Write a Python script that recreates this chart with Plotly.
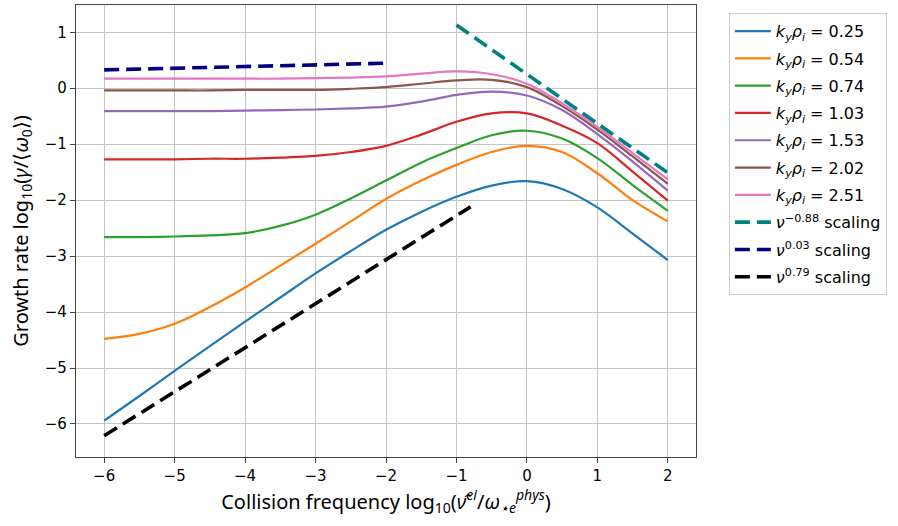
import plotly.graph_objects as go

# Collision frequency grid, log10(nu_ei / omega_*e^phys)
log_nu = [-6, -5.5, -5, -4.5, -4, -3.5, -3, -2.5, -2, -1.5, -1, -0.5, 0, 0.5, 1, 1.5, 2]

# Growth rate log10(gamma / <omega_0>) for each k_y rho_i
ky_labels = ["0.25", "0.54", "0.74", "1.03", "1.53", "2.02", "2.51"]
gr_025 = [-5.94, -5.50, -5.05, -4.61, -4.17, -3.74, -3.31, -2.91, -2.53, -2.21, -1.94, -1.74, -1.66, -1.80, -2.13, -2.60, -3.07]
gr_054 = [-4.48, -4.39, -4.21, -3.91, -3.56, -3.17, -2.78, -2.38, -1.98, -1.65, -1.37, -1.14, -1.03, -1.14, -1.52, -2.00, -2.38]
gr_074 = [-2.66, -2.66, -2.65, -2.63, -2.59, -2.46, -2.26, -1.97, -1.65, -1.33, -1.07, -0.84, -0.76, -0.90, -1.25, -1.73, -2.19]
gr_103 = [-1.27, -1.27, -1.27, -1.26, -1.26, -1.24, -1.21, -1.14, -1.03, -0.83, -0.60, -0.45, -0.45, -0.67, -0.98, -1.49, -2.01]
gr_153 = [-0.41, -0.41, -0.41, -0.41, -0.40, -0.39, -0.38, -0.36, -0.33, -0.24, -0.12, -0.06, -0.13, -0.39, -0.82, -1.31, -1.83]
gr_202 = [-0.04, -0.04, -0.04, -0.04, -0.03, -0.03, -0.03, -0.01, 0.02, 0.08, 0.14, 0.15, 0.02, -0.32, -0.74, -1.22, -1.71]
gr_251 = [0.17, 0.17, 0.17, 0.17, 0.17, 0.17, 0.18, 0.19, 0.21, 0.26, 0.30, 0.25, 0.08, -0.27, -0.69, -1.16, -1.63]
growth = [gr_025, gr_054, gr_074, gr_103, gr_153, gr_202, gr_251]

# Power-law reference lines (end points)
scale_labels = ["\u22120.88", "0.03", "0.79"]
scale_x = [[-1, 2], [-6, -2], [-6, -0.8]]
scale_y = [[1.13, -1.51], [0.327, 0.447], [-6.21, -2.12]]

line_colors = ["#1f77b4", "#ff7f0e", "#2ca02c", "#d62728", "#9467bd", "#8c564b", "#e377c2"]
scale_colors = ["#008080", "#000080", "#000000"]

fig = go.Figure()
for i, (lab, ys, col) in enumerate(zip(ky_labels, growth, line_colors)):
    fig.add_trace(go.Scatter(
        x=log_nu, y=ys, mode="lines",
        line=dict(color=col, width=2.2, shape="spline", smoothing=1.0),
        name=f"<i>k<sub>y</sub>ρ<sub>i</sub></i> = {lab}",
        legendgroup=f"g{i}",
    ))
for j, (lab, xs, ys, col) in enumerate(zip(scale_labels, scale_x, scale_y, scale_colors)):
    fig.add_trace(go.Scatter(
        x=xs, y=ys, mode="lines",
        line=dict(color=col, width=3.6, dash="15px,7px"),
        name=f"<i>ν</i><sup>{lab}</sup> scaling",
        legendgroup=f"s{j}",
    ))

axis_common = dict(
    showgrid=True, gridcolor="#c4c4c4", gridwidth=1,
    zeroline=False, showline=True, linecolor="#444444", linewidth=1.3,
    mirror=True, ticks="outside", ticklen=5, tickcolor="#444444",
    tickfont=dict(family="DejaVu Sans", size=15, color="black"),
)

fig.update_xaxes(
    range=[-6.4, 2.4], tickvals=list(range(-6, 3)),
    ticktext=[str(v).replace("-", "\u2212") for v in range(-6, 3)],
    title=dict(text="Collision frequency log<sub>10</sub>(<i>ν̂<sup>ei</sup></i>/<i>ω<sub>⋆e</sub><sup>phys</sup></i>)",
               font=dict(family="Noto Sans", size=20, color="black"), standoff=10),
    **axis_common,
)
fig.update_yaxes(
    range=[-6.59, 1.487], tickvals=list(range(-6, 2)),
    ticktext=[str(v).replace("-", "\u2212") for v in range(-6, 2)],
    title=dict(text="Growth rate log<sub>10</sub>(<i>γ</i>/⟨<i>ω</i><sub>0</sub>⟩)",
               font=dict(family="Noto Sans", size=20, color="black"), standoff=10),
    **axis_common,
)

fig.update_layout(
    width=898, height=526,
    margin=dict(l=76, r=202, t=5, b=69),
    paper_bgcolor="white", plot_bgcolor="white",
    showlegend=True,
    legend=dict(
        x=1.053, y=0.982, xanchor="left", yanchor="top",
        bgcolor="white", bordercolor="#cccccc", borderwidth=1,
        font=dict(family="DejaVu Sans", size=16, color="black"),
        itemwidth=36, tracegroupgap=3.5,
    ),
)

fig.write_html("out.html")
